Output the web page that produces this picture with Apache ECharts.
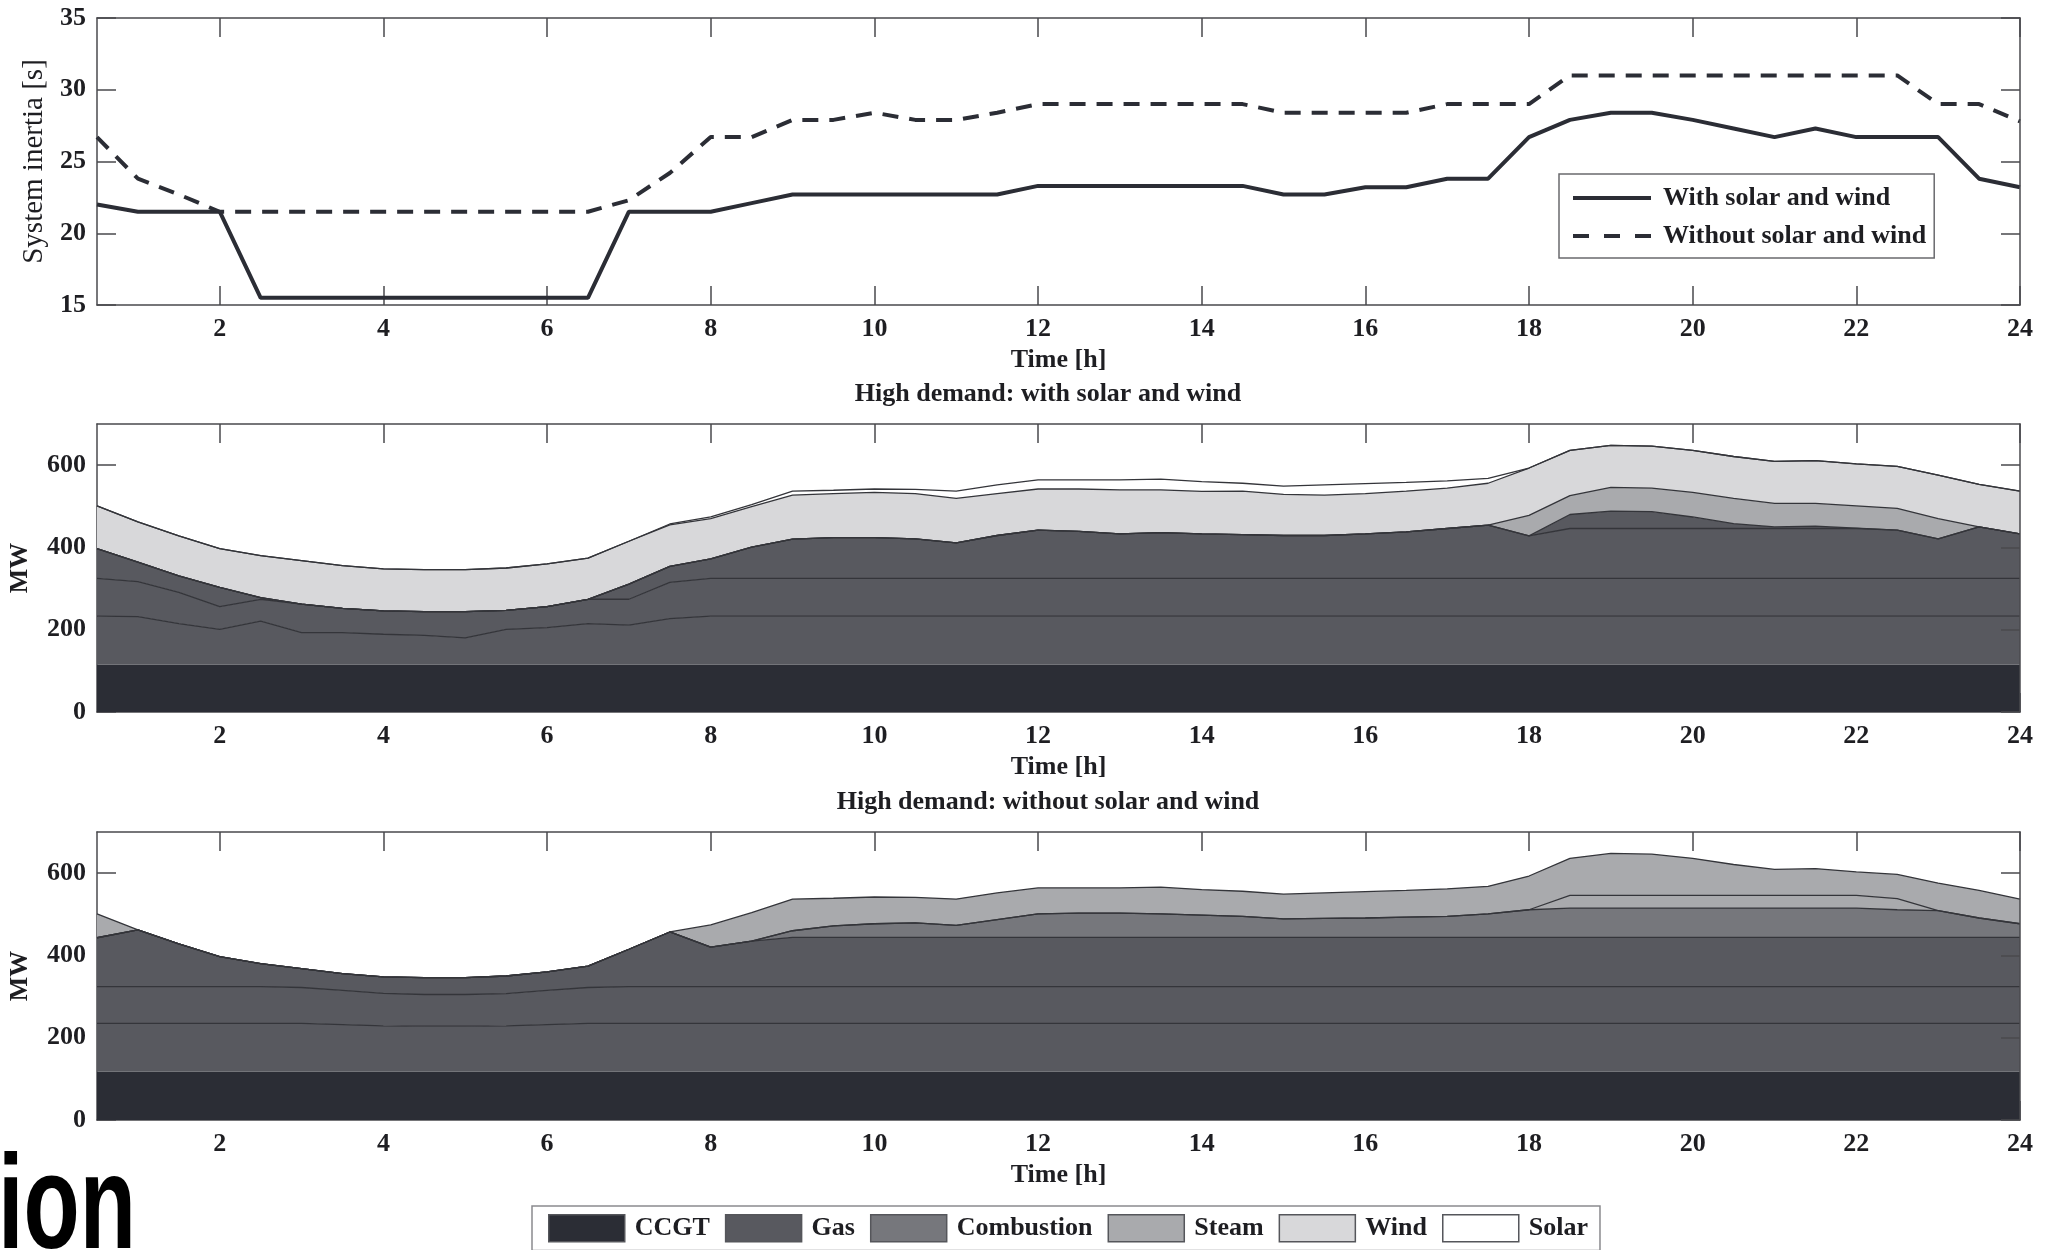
<!DOCTYPE html>
<html><head><meta charset="utf-8">
<script src="https://cdn.jsdelivr.net/npm/echarts@6/dist/echarts.min.js"></script>
<style>html,body{margin:0;padding:0;background:#fff}#c{width:2046px;height:1250px}</style>
</head><body><div id="c"></div>
<script>
// ---------- data ----------
const hours = [0.5,1,1.5,2,2.5,3,3.5,4,4.5,5,5.5,6,6.5,7,7.5,8,8.5,9,9.5,10,10.5,11,11.5,12,12.5,13,13.5,14,14.5,15,15.5,16,16.5,17,17.5,18,18.5,19,19.5,20,20.5,21,21.5,22,22.5,23,23.5,24];
const xTicks = [2,4,6,8,10,12,14,16,18,20,22,24];
const inertiaTicks = [15,20,25,30,35];
const mwTicks = [0,200,400,600];

// System inertia [s]
const inertiaWith = [22.0,21.5,21.5,21.5,15.5,15.5,15.5,15.5,15.5,15.5,15.5,15.5,15.5,21.5,21.5,21.5,22.1,22.7,22.7,22.7,22.7,22.7,22.7,23.3,23.3,23.3,23.3,23.3,23.3,22.7,22.7,23.2,23.2,23.8,23.8,26.7,27.9,28.4,28.4,27.9,27.3,26.7,27.3,26.7,26.7,26.7,23.8,23.2];
const inertiaWithout = [26.7,23.8,22.7,21.5,21.5,21.5,21.5,21.5,21.5,21.5,21.5,21.5,21.5,22.3,24.2,26.7,26.7,27.9,27.9,28.4,27.9,27.9,28.4,29.0,29.0,29.0,29.0,29.0,29.0,28.4,28.4,28.4,28.4,29.0,29.0,29.0,31.0,31.0,31.0,31.0,31.0,31.0,31.0,31.0,31.0,29.0,29.0,27.8];

// High demand: with solar and wind (MW per unit)
const ccgtA  = [115,115,115,115,115,115,115,115,115,115,115,115,115,115,115,115,115,115,115,115,115,115,115,115,115,115,115,115,115,115,115,115,115,115,115,115,115,115,115,115,115,115,115,115,115,115,115,115];
const gasA1  = [118,117,100,86,106,78,78,74,71,65,86,90,100,96,112,118,118,118,118,118,118,118,118,118,118,118,118,118,118,118,118,118,118,118,118,118,118,118,118,118,118,118,118,118,118,118,118,118];
const gasA2  = [92,85,76,55,53,69,59,57,58,64,46,51,59,63,88,92,92,92,92,92,92,92,92,92,92,92,92,92,92,92,92,92,92,92,92,92,92,92,92,92,92,92,92,92,92,92,92,92];
const gasA3  = [72,47,40,47,4,0,0,0,0,0,0,0,0,37,39,47,76,95,99,99,96,86,104,117,114,108,111,108,106,104,104,108,113,121,129,103,121,121,121,121,121,121,121,121,117,96,125,108];
const gasA4  = [0,0,0,0,0,0,0,0,0,0,0,0,0,0,0,0,0,0,0,0,0,0,0,0,0,0,0,0,0,0,0,0,0,0,0,0,34,42,41,28,12,4,6,1,0,0,0,0];
const steamA = [0,0,0,0,0,0,0,0,0,0,0,0,0,0,0,0,0,0,0,0,0,0,0,0,0,0,0,0,0,0,0,0,0,0,0,50,46,58,57,60,61,57,55,54,53,49,0,0];
const windA  = [104,98,97,94,102,106,104,102,102,102,103,104,100,104,101,98,98,107,107,110,110,108,102,100,103,107,104,103,106,100,98,98,99,98,102,115,110,102,102,102,102,102,104,102,102,106,103,104];
const solarA = [0,0,0,0,0,0,0,0,0,0,0,0,0,0,2,4,5,10,8,8,10,18,21,22,22,24,26,24,19,20,25,24,21,18,12,0,0,0,0,0,0,0,0,0,0,0,0,0];

// High demand: without solar and wind (MW per unit)
const ccgtB  = [117,117,117,117,117,117,117,117,117,117,117,117,117,117,117,117,117,117,117,117,117,117,117,117,117,117,117,117,117,117,117,117,117,117,117,117,117,117,117,117,117,117,117,117,117,117,117,117];
const gasB1  = [118,118,118,118,118,118,115,112,111,111,112,115,118,118,118,118,118,118,118,118,118,118,118,118,118,118,118,118,118,118,118,118,118,118,118,118,118,118,118,118,118,118,118,118,118,118,118,118];
const gasB2  = [89,89,89,89,89,87,83,79,77,77,78,83,87,89,89,89,89,89,89,89,89,89,89,89,89,89,89,89,89,89,89,89,89,89,89,89,89,89,89,89,89,89,89,89,89,89,89,89];
const gasB3  = [119,138,104,73,56,46,41,40,41,41,43,45,52,91,133,96,111,120,120,120,120,120,120,120,120,120,120,120,120,120,120,120,120,120,120,120,120,120,120,120,120,120,120,120,120,120,120,120];
const combB  = [0,0,0,0,0,0,0,0,0,0,0,0,0,0,0,0,0,16,28,33,35,29,43,57,59,59,57,54,51,45,46,47,49,51,57,67,71,71,71,71,71,71,71,71,67,65,47,33];
const steamB2= [0,0,0,0,0,0,0,0,0,0,0,0,0,0,0,0,0,0,0,0,0,0,0,0,0,0,0,0,0,0,0,0,0,0,0,0,31,31,31,31,31,31,31,31,27,0,0,0];
const steamB1= [58,0,0,0,0,0,0,0,0,0,0,0,0,0,0,54,69,77,67,65,62,64,65,63,61,61,65,62,61,60,62,64,65,67,67,82,90,102,100,90,75,63,65,57,59,67,67,60];

// ---------- style ----------
const FF = '"Liberation Serif", "Times New Roman", serif';
const TXT = '#1e1e22';
const AX = '#4a4a4e';
const C = {ccgt:'#2b2d35', gas:'#58595f', comb:'#76777c', steam:'#a9aaad', wind:'#d8d8da', solar:'#ffffff'};
const EDGE = '#34353a';

const cats = hours.map(String);
const isTick = (i, v) => xTicks.indexOf(Number(v)) >= 0;
const lblStyle = {margin: 11, color: TXT, fontFamily: FF, fontWeight: 'bold', fontSize: 26};
const tickStyle = {show: true, inside: true, length: 19, lineStyle: {color: AX, width: 1.5}};
const line = {show: true, onZero: false, lineStyle: {color: AX, width: 1.5}};

const xAxes = [], yAxes = [];
const yCfg = [
  {min: 15, max: 35, ticks: inertiaTicks, name: 'System inertia [s]', gap: 48, weight: 'normal', size: 29},
  {min: 0, max: 700, ticks: mwTicks, name: 'MW', gap: 64, weight: 'bold', size: 26},
  {min: 0, max: 700, ticks: mwTicks, name: 'MW', gap: 64, weight: 'bold', size: 26}
];
for (let g = 0; g < 3; g++) {
  xAxes.push({type: 'category', data: cats, boundaryGap: false, gridIndex: g, position: 'bottom', axisLine: line,
    axisTick: Object.assign({}, tickStyle, {interval: isTick}),
    axisLabel: Object.assign({show: true, interval: isTick}, lblStyle), splitLine: {show: false},
    name: 'Time [h]', nameLocation: 'middle', nameGap: 42,
    nameTextStyle: {color: TXT, fontFamily: FF, fontWeight: 'bold', fontSize: 26}});
  xAxes.push({type: 'category', data: cats, boundaryGap: false, gridIndex: g, position: 'top', z: 10, axisLine: line,
    axisTick: Object.assign({}, tickStyle, {interval: isTick}),
    axisLabel: {show: false}, splitLine: {show: false}});
  const c = yCfg[g];
  yAxes.push({type: 'value', gridIndex: g, min: c.min, max: c.max, position: 'left', axisLine: line,
    axisTick: Object.assign({}, tickStyle, {customValues: c.ticks}),
    axisLabel: Object.assign({show: true, customValues: c.ticks}, lblStyle), splitLine: {show: false},
    name: c.name, nameLocation: 'middle', nameGap: c.gap,
    nameTextStyle: {color: TXT, fontFamily: FF, fontWeight: c.weight, fontSize: c.size}});
  yAxes.push({type: 'value', gridIndex: g, min: c.min, max: c.max, position: 'right', z: 10, axisLine: line,
    axisTick: Object.assign({}, tickStyle, {customValues: c.ticks}),
    axisLabel: {show: false}, splitLine: {show: false}});
}

function area(name, values, stack, g, fill, edgeW) {
  return {type: 'line', name, xAxisIndex: 2 * g, yAxisIndex: 2 * g, stack, data: values,
    symbol: 'none', silent: true, itemStyle: {color: fill},
    lineStyle: {color: EDGE, width: edgeW, opacity: edgeW > 0 ? 1 : 0},
    areaStyle: {color: fill, opacity: 1}, emphasis: {disabled: true}};
}

const series = [
  {type: 'line', name: 'With solar and wind', xAxisIndex: 0, yAxisIndex: 0, data: inertiaWith, symbol: 'none',
    itemStyle: {color: C.ccgt}, lineStyle: {color: C.ccgt, width: 4}, z: 3},
  {type: 'line', name: 'Without solar and wind', xAxisIndex: 0, yAxisIndex: 0, data: inertiaWithout, symbol: 'none',
    itemStyle: {color: C.ccgt}, lineStyle: {color: C.ccgt, width: 4, type: [16, 11]}, z: 3},

  area('CCGT', ccgtA, 'A', 1, C.ccgt, 0),
  area('Gas', gasA1, 'A', 1, C.gas, 1.3),
  area('Gas', gasA2, 'A', 1, C.gas, 1.3),
  area('Gas', gasA3, 'A', 1, C.gas, 1.3),
  area('Gas', gasA4, 'A', 1, C.gas, 1.3),
  area('Steam', steamA, 'A', 1, C.steam, 1.3),
  area('Wind', windA, 'A', 1, C.wind, 1.3),
  area('Solar', solarA, 'A', 1, C.solar, 1.3),

  area('CCGT', ccgtB, 'B', 2, C.ccgt, 0),
  area('Gas', gasB1, 'B', 2, C.gas, 1.3),
  area('Gas', gasB2, 'B', 2, C.gas, 1.3),
  area('Gas', gasB3, 'B', 2, C.gas, 1.3),
  area('Combustion', combB, 'B', 2, C.comb, 1.3),
  area('Steam', steamB2, 'B', 2, C.steam, 1.3),
  area('Steam', steamB1, 'B', 2, C.steam, 1.3)
];

const option = {
  animation: false,
  grid: [
    {left: 97, right: 26, top: 18, height: 287, outerBoundsMode: 'none'},
    {left: 97, right: 26, top: 424, height: 288, outerBoundsMode: 'none'},
    {left: 97, right: 26, top: 832, height: 288, outerBoundsMode: 'none'}
  ],
  xAxis: xAxes,
  yAxis: yAxes,
  legend: [
    {orient: 'vertical', left: 1559, top: 174, padding: [11, 8, 9, 14], itemGap: 12, itemWidth: 78, itemHeight: 4,
      backgroundColor: '#fff', borderColor: '#6a6a6e', borderWidth: 1.5, selectedMode: false,
      textStyle: {color: TXT, fontFamily: FF, fontWeight: 'bold', fontSize: 26, padding: [0, 0, 0, 7]},
      itemStyle: {borderWidth: 0},
      data: [{name: 'With solar and wind', icon: 'rect'},
             {name: 'Without solar and wind', icon: 'path://M0,0h16v4h-16z M31,0h16v4h-16z M62,0h16v4h-16z'}]},
    {orient: 'horizontal', left: 532, top: 1206, padding: [8, 12, 8, 16], itemGap: 15, itemWidth: 76, itemHeight: 27,
      borderColor: '#8a8a8e', borderWidth: 1.5, selectedMode: false, icon: 'rect',
      textStyle: {color: TXT, fontFamily: FF, fontWeight: 'bold', fontSize: 26, padding: [0, 0, 0, 5]},
      itemStyle: {borderColor: '#55565b', borderWidth: 1.5},
      data: ['CCGT', 'Gas', 'Combustion', 'Steam', 'Wind', 'Solar']}
  ],
  graphic: [
    {type: 'text', x: 1048, y: 394, silent: true,
      style: {text: 'High demand: with solar and wind', font: 'bold 26px ' + FF, fill: TXT, align: 'center', verticalAlign: 'middle', textAlign: 'center', textVerticalAlign: 'middle'}},
    {type: 'text', x: 1048, y: 802, silent: true,
      style: {text: 'High demand: without solar and wind', font: 'bold 26px ' + FF, fill: TXT, align: 'center', verticalAlign: 'middle', textAlign: 'center', textVerticalAlign: 'middle'}},
    {type: 'text', x: -2, y: 1278, scaleY: 1.45, silent: true,
      style: {text: 'ion', font: 'bold 92px "Liberation Sans", Arial, sans-serif', fill: '#000', align: 'left', verticalAlign: 'bottom', textAlign: 'left', textVerticalAlign: 'bottom'}}
  ],
  series
};

const chart = echarts.init(document.getElementById('c'), null, {renderer: 'canvas'});
chart.setOption(option);
</script></body></html>
